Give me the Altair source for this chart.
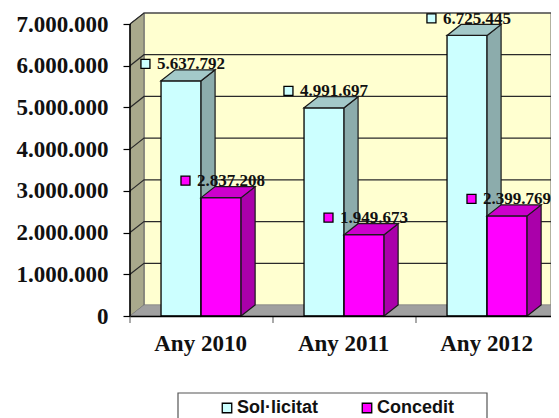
import altair as alt
import pandas as pd

years = ["Any 2010", "Any 2011", "Any 2012"]
series = ["Sol·licitat", "Concedit"]
solicitat = [5637792, 4991697, 6725445]
concedit = [2837208, 1949673, 2399769]
y_ticks = [0, 1000000, 2000000, 3000000, 4000000, 5000000, 6000000, 7000000]

DX = 0.098      # depth in category units
DV = 264000     # depth in value units
BAR_W = 0.28
BAR_START = 0.217
YMAX = 7000000 + DV
XMAX = 421 / 143
FRONT = {"Sol·licitat": "#CCFFFF", "Concedit": "#FF00FF"}
TOPC = {"Sol·licitat": "#A3C9C9", "Concedit": "#CC00CC"}
SIDE = {"Sol·licitat": "#8CACAC", "Concedit": "#AA00AA"}

fronts, faces, labels = [], [], []
for s_i, (name, vals) in enumerate(zip(series, [solicitat, concedit])):
    for c_i, v in enumerate(vals):
        xl = c_i + BAR_START + s_i * BAR_W
        xr = xl + BAR_W
        fronts.append({"x": xl, "x2": xr, "y": v, "series": name, "base": 0})
        labels.append({"tx": xl + 0.21, "kx": xl - 0.109, "y": v, "series": name,
                       "txt": f"{v:,}".replace(",", ".")})
        k = f"{name}{c_i}"
        for px, a, b in [(xr, v, 0), (xr + DX, v + DV, DV)]:
            faces.append({"key": k + "s", "layer": s_i, "x": px, "y": a, "y2": b, "fill": SIDE[name]})
        for px, a, b in [(xl, v, v), (xl + DX, v + DV, v), (xr, v + DV, v), (xr + DX, v + DV, v + DV)]:
            faces.append({"key": k + "t", "layer": s_i, "x": px, "y": a, "y2": b, "fill": TOPC[name]})

fronts = pd.DataFrame(fronts)
faces = pd.DataFrame(faces)
labels = pd.DataFrame(labels)

x_scale = alt.Scale(domain=[0, XMAX], nice=False, zero=False)
y_scale = alt.Scale(domain=[0, YMAX], nice=False, zero=False)
x_axis = alt.Axis(
    values=[0, 0.49, 1, 1.49, 2, 2.49],
    labelExpr=(f"datum.value==0.49?'{years[0]}':datum.value==1.49?'{years[1]}':"
               f"datum.value==2.49?'{years[2]}':''"),
    labelFont="Liberation Serif", labelFontWeight="bold", labelFontSize=23,
    labelColor="#111111", labelPadding=16, labelAngle=0, labelOverlap=False,
    labelFlush=False, labelBound=False, title=None,
    tickSize=0, domainColor="#000000", domainWidth=1.5, grid=False, zindex=1)
y_axis = alt.Axis(
    values=y_ticks,
    labelExpr="replace(format(datum.value,','),/,/g,'.')",
    labelFont="Liberation Serif", labelFontWeight="bold", labelFontSize=23,
    labelColor="#111111", labelPadding=15, tickSize=7, tickColor="#000000",
    tickWidth=1.2, domain=False, grid=False, zindex=1, title=None)


def X(f="x"):
    return alt.X(f"{f}:Q", scale=x_scale, axis=x_axis)


def Y(f="y"):
    return alt.Y(f"{f}:Q", scale=y_scale, axis=y_axis)


# Back wall, side wall and floor
back = alt.Chart(pd.DataFrame({"x": [DX, XMAX], "y": [YMAX, YMAX], "y2": [DV, DV]})).mark_area(
    color="#FFFFD0", stroke="#808080", strokeWidth=1.2).encode(x=X(), y=Y(), y2="y2:Q")
wall = alt.Chart(pd.DataFrame({"x": [0, DX], "y": [7000000, YMAX], "y2": [0, DV]})).mark_area(
    color="#A9A98C", stroke="#666666", strokeWidth=1).encode(x=X(), y=Y(), y2="y2:Q")
floor_ = alt.Chart(pd.DataFrame({"x": [0, DX, XMAX], "y": [0, DV, DV], "y2": [0, 0, 0]})).mark_area(
    color="#A0A0A0", stroke="#808080", strokeWidth=0.5).encode(x=X(), y=Y(), y2="y2:Q")

grid_rows = []
for t in y_ticks[1:]:
    grid_rows += [{"x": 0, "y": t, "t": t, "o": 0}, {"x": DX, "y": t + DV, "t": t, "o": 1},
                  {"x": XMAX, "y": t + DV, "t": t, "o": 2}]
grid = alt.Chart(pd.DataFrame(grid_rows)).mark_line(color="#2A2A2A", strokeWidth=1.2).encode(
    x=X(), y=Y(), detail="t:N", order="o:Q")
axis_line = alt.Chart(pd.DataFrame({"x": [0, 0], "y": [0, 7000000]})).mark_line(
    color="#000000", strokeWidth=1.5).encode(x=X(), y=Y())

x_ticks = alt.Chart(pd.DataFrame({"x": [0, 1, 2], "y": [0, 0, 0]})).mark_tick(
    color="#333333", thickness=1.2, size=7, orient="vertical", yOffset=3.5).encode(x=X(), y=Y())

color = alt.Color("series:N", scale=alt.Scale(domain=series, range=[FRONT[s] for s in series]),
                  legend=alt.Legend(orient="none", legendX=88, legendY=386, direction="horizontal",
                                    columns=2, title=None, symbolType="square", symbolSize=90,
                                    symbolStrokeColor="#000000", symbolStrokeWidth=1.3,
                                    labelFont="Liberation Sans", labelFontWeight="bold",
                                    labelFontSize=18, labelColor="#111111", labelOffset=1,
                                    columnPadding=39, labelLimit=150, padding=0))


def bars(i, name):
    fr = alt.Chart(fronts[fronts.series == name]).mark_rect(stroke="#000000", strokeWidth=1.3).encode(
        x=X(), x2="x2:Q", y=Y(), y2="base:Q", color=color)
    fa = alt.Chart(faces[faces.layer == i]).mark_area(stroke="#1A1A1A", strokeWidth=1.2).encode(
        x=X(), y=Y(), y2="y2:Q", fill=alt.Fill("fill:N", scale=None), detail="key:N")
    return [fr, fa]


text = alt.Chart(labels).mark_text(font="Liberation Serif", fontWeight="bold", fontSize=17,
                                   color="#111111", baseline="middle", align="center", dy=-16.5).encode(
    x=X("tx"), y=Y(), text="txt:N")
keys = alt.Chart(labels).mark_square(size=81, stroke="#000000", strokeWidth=1.3, opacity=1, filled=True,
                                     yOffset=-17).encode(
    x=X("kx"), y=Y(), color=color)

frame = alt.Chart(pd.DataFrame({"a": [0]})).mark_rect(fill="transparent", stroke="#555555", strokeWidth=1.2).encode(
    x=alt.value(48), x2=alt.value(357), y=alt.value(380), y2=alt.value(420))

chart = alt.layer(
    back, wall, floor_, grid, axis_line, x_ticks,
    *bars(0, series[0]), *bars(1, series[1]),
    keys, text, frame,
).properties(
    width=421, height=303,
    autosize=alt.AutoSizeParams(type="none"),
    padding={"left": 122, "top": 5, "right": 0, "bottom": 102},
).configure_view(stroke=None)

chart.save("out.html", embed_options={"renderer": "svg", "actions": False})
